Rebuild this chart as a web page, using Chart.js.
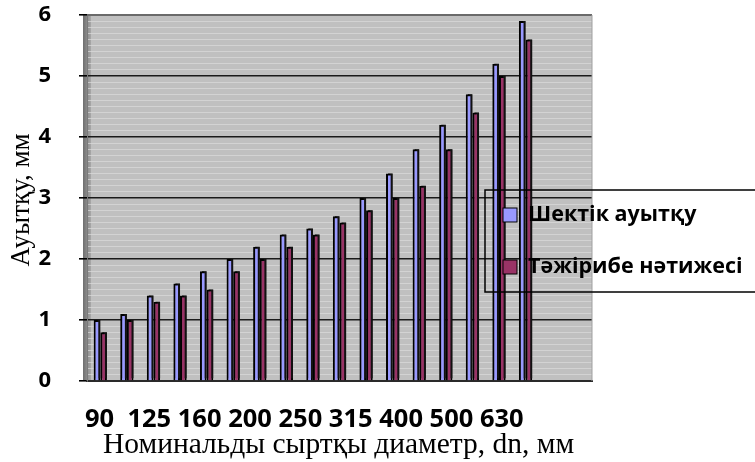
<!DOCTYPE html>
<html><head><meta charset="utf-8">
<script src="https://cdn.jsdelivr.net/npm/chart.js@4/dist/chart.umd.min.js"></script>
<style>html,body{margin:0;padding:0;background:#fff}#wrap{width:755px;height:462px;position:relative}</style>
</head><body><div id="wrap"><canvas id="c"></canvas></div>
<script>
// Pipe outer diameters (mm); two trailing empty slots keep the plot wall wider than the bars
const diameters = ['90','110','125','140','160','180','200','225','250','280','315','355','400','450','500','560','630','',''];
const limitDeviation = [1.0,1.1,1.4,1.6,1.8,2.0,2.2,2.4,2.5,2.7,3.0,3.4,3.8,4.2,4.7,5.2,5.9];
const measured       = [0.8,1.0,1.3,1.4,1.5,1.8,2.0,2.2,2.4,2.6,2.8,3.0,3.2,3.8,4.4,5.0,5.6];
const axisLabels = ['90','125','160','200','250','315','400','500','630'];
const seriesNames = ['Шектік ауытқу','Тәжірибе нәтижесі'];
const seriesColors = ['#9999ff','#993366'];
const yTitle = 'Ауытқу, мм';
const xTitle = 'Номинальды сыртқы диаметр, dn, мм';

const isMajor = v => Math.abs(v - Math.round(v)) < 1e-6;

const decor = {
  id: 'decor',
  beforeDraw(chart) {
    const {ctx, chartArea: a} = chart;
    ctx.save();
    ctx.fillStyle = '#c0c0c0';
    ctx.fillRect(a.left, a.top, a.right - a.left, a.bottom - a.top);
    // side wall
    const g = ctx.createLinearGradient(a.left - 4, 0, a.left + 4, 0);
    g.addColorStop(0, '#6e6e6e'); g.addColorStop(1, '#a8a8a8');
    ctx.fillStyle = g;
    ctx.fillRect(a.left - 4, a.top, 8, a.bottom - a.top);
    ctx.restore();
  },
  // depth shading on the columns
  beforeDatasetsDraw(chart) {
    const ctx = chart.ctx;
    ctx.save();
    ctx.shadowColor = '#111';
    ctx.shadowOffsetX = 2;
    ctx.shadowOffsetY = -2;
    ctx.shadowBlur = 0;
  },
  afterDatasetsDraw(chart) {
    chart.ctx.restore();
  },
  afterDraw(chart) {
    const {ctx, chartArea: a} = chart;
    ctx.save();
    // top and right edges of the plot box
    ctx.strokeStyle = '#6a6a6a'; ctx.lineWidth = 2;
    ctx.beginPath(); ctx.moveTo(a.left, a.top); ctx.lineTo(a.right, a.top); ctx.stroke();
    ctx.strokeStyle = '#a0a0a0'; ctx.lineWidth = 1;
    ctx.beginPath(); ctx.moveTo(a.right, a.top); ctx.lineTo(a.right, a.bottom); ctx.stroke();

    // legend
    ctx.strokeStyle = '#000'; ctx.lineWidth = 1.5;
    ctx.strokeRect(485, 190, 290, 102);
    ctx.font = 'bold 21.5px "Open Sans"';
    ctx.textBaseline = 'middle'; ctx.textAlign = 'left';
    const rows = [215, 267];
    seriesNames.forEach((name, i) => {
      ctx.fillStyle = seriesColors[i];
      ctx.fillRect(503, rows[i] - 7, 14, 14);
      ctx.strokeStyle = '#000'; ctx.lineWidth = 1;
      ctx.strokeRect(503, rows[i] - 7, 14, 14);
      ctx.fillStyle = '#000';
      ctx.fillText(name, 528, rows[i]);
    });

    // category labels under the axis
    ctx.font = 'bold 25.5px "Open Sans"';
    ctx.textBaseline = 'alphabetic';
    ctx.fillText(axisLabels[0] + '  ' + axisLabels.slice(1).join(' '), 85, 427);

    // axis titles
    ctx.font = '29.5px "Liberation Serif"';
    ctx.fillText(xTitle, 103, 453);
    ctx.translate(29, 200);
    ctx.rotate(-Math.PI / 2);
    ctx.textAlign = 'center';
    ctx.font = '27px "Liberation Serif"';
    ctx.fillText(yTitle, 0, 0);
    ctx.restore();
  }
};

new Chart(document.getElementById('c'), {
  type: 'bar',
  data: {
    labels: diameters,
    datasets: [
      {label: seriesNames[0], data: limitDeviation, backgroundColor: seriesColors[0], borderColor: '#000', borderWidth: 2},
      {label: seriesNames[1], data: measured, backgroundColor: seriesColors[1], borderColor: '#000', borderWidth: 2}
    ]
  },
  options: {
    responsive: true,
    maintainAspectRatio: false,
    animation: false,
    layout: {padding: {top: 15, right: 163, left: 0, bottom: 0}},
    datasets: {bar: {categoryPercentage: 0.5, barPercentage: 1.0}},
    plugins: {legend: {display: false}, tooltip: {enabled: false}},
    scales: {
      x: {
        ticks: {display: false},
        grid: {display: false},
        border: {color: '#2a2a2a', width: 2},
        afterFit: s => { s.height = 81; }
      },
      y: {
        min: 0, max: 6,
        ticks: {
          stepSize: 0.1, maxTicksLimit: 100, autoSkip: false, padding: 28,
          color: '#000', font: {family: '"Open Sans"', weight: 'bold', size: 22},
          callback: v => isMajor(v) ? String(Math.round(v)) : ''
        },
        grid: {
          tickLength: 8,
          color: c => isMajor(c.tick.value) ? (c.tick.value === 0 ? 'rgba(0,0,0,0)' : '#1a1a1a') : 'rgba(220,220,220,0.7)',
          lineWidth: c => isMajor(c.tick.value) ? 1.6 : 1,
          tickColor: c => isMajor(c.tick.value) ? '#000' : 'rgba(0,0,0,0)'
        },
        border: {color: '#7a7a7a', width: 1},
        afterFit: s => { s.width = 87; s.paddingTop = 0; s.paddingBottom = 0; }
      }
    }
  },
  plugins: [decor]
});
</script>
</body></html>
